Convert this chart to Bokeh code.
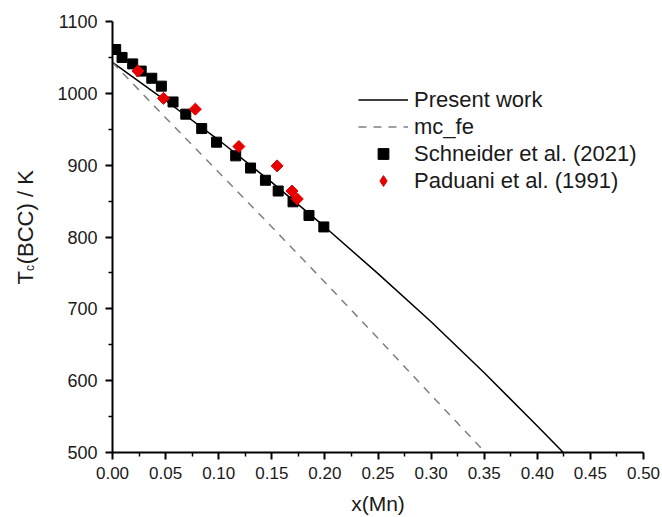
import numpy as np
from bokeh.plotting import figure
from bokeh.models import Legend, LegendItem, Label, Range1d, FixedTicker
from bokeh.embed import file_html
from bokeh.resources import INLINE

# Calculated Curie temperature of BCC Fe-Mn
present_x = [0.0, 0.05, 0.10, 0.15, 0.20, 0.25, 0.30, 0.35, 0.40, 0.4245]
present_t = [1043, 990, 935, 876, 814, 749, 682, 611, 537, 500]

mcfe_x = [0.0, 0.05, 0.10, 0.15, 0.20, 0.25, 0.30, 0.351]
mcfe_t = [1043, 966, 890, 814, 737, 659, 580, 500]

# Experimental data
schneider_x = [0.003, 0.009, 0.019, 0.027, 0.037, 0.046, 0.057, 0.069, 0.084,
               0.098, 0.116, 0.130, 0.144, 0.156, 0.170, 0.185, 0.199]
schneider_t = [1061, 1050, 1041, 1031, 1021, 1010, 988, 971, 951,
               932, 913, 896, 879, 864, 849, 830, 814]

paduani_x = [0.024, 0.048, 0.078, 0.119, 0.155, 0.169, 0.174]
paduani_t = [1031, 993, 978, 926, 899, 864, 853]

x_ticks = [0.0, 0.05, 0.10, 0.15, 0.20, 0.25, 0.30, 0.35, 0.40, 0.45, 0.50]
x_tick_labels = ["0.00", "0.05", "0.10", "0.15", "0.20", "0.25", "0.30",
                 "0.35", "0.40", "0.45", "0.50"]
y_ticks = [500, 600, 700, 800, 900, 1000, 1100]

FONT = "Liberation Sans"
TEXT = "#1a1a1a"
RED = "#e60000"

X_RANGE = (0.0, 0.5)
Y_RANGE = (500, 1100)
BORDER = dict(left=112, right=19, top=21, bottom=65)
W, H = 662, 517

p = figure(width=W, height=H, output_backend="svg", toolbar_location=None,
           x_range=Range1d(*X_RANGE), y_range=Range1d(*Y_RANGE),
           min_border_left=BORDER["left"], min_border_right=BORDER["right"],
           min_border_top=BORDER["top"], min_border_bottom=BORDER["bottom"])
p.outline_line_color = None
p.xgrid.visible = False
p.ygrid.visible = False
p.background_fill_color = "white"
p.border_fill_color = "white"

x_minor = [(a + b) / 2 for a, b in zip(x_ticks[:-1], x_ticks[1:])]
y_minor = [(a + b) / 2 for a, b in zip(y_ticks[:-1], y_ticks[1:])]
p.xaxis.ticker = FixedTicker(ticks=x_ticks, minor_ticks=x_minor)
p.yaxis.ticker = FixedTicker(ticks=y_ticks, minor_ticks=y_minor)
p.xaxis.major_label_overrides = {t: s for t, s in zip(x_ticks, x_tick_labels)}

for ax in (p.xaxis[0], p.yaxis[0]):
    ax.axis_line_width = 2
    ax.axis_line_color = "black"
    ax.major_tick_line_width = 2
    ax.major_tick_line_color = "black"
    ax.major_tick_out = 7
    ax.major_tick_in = 0
    ax.minor_tick_line_width = 1.5
    ax.minor_tick_line_color = "black"
    ax.minor_tick_out = 4
    ax.minor_tick_in = 0
    ax.major_label_text_font = FONT
    ax.major_label_text_color = TEXT
p.xaxis.major_label_text_font_size = "17px"
p.yaxis.major_label_text_font_size = "18px"
p.xaxis.major_label_standoff = 7
p.yaxis.major_label_standoff = 8

p.xaxis.axis_label = "x(Mn)"
p.xaxis.axis_label_text_font = FONT
p.xaxis.axis_label_text_font_size = "21px"
p.xaxis.axis_label_text_font_style = "normal"
p.xaxis.axis_label_text_color = TEXT
p.xaxis.axis_label_standoff = 10

r_present = p.line(present_x, present_t, line_color="black", line_width=1.5)
r_mcfe = p.line(mcfe_x, mcfe_t, line_color="#7f7f7f", line_width=1.5,
                line_dash="8 7")
r_sch = p.scatter(schneider_x, schneider_t, marker="square", size=10,
                  fill_color="black", line_color="black")
# diamond key for the legend, hidden under the plotted diamonds
r_pad_key = p.scatter(paduani_x, paduani_t, marker="diamond", size=8,
                      fill_color=RED, line_color=RED)
p.scatter(paduani_x, paduani_t, marker="square", angle=np.pi / 4,
          size=8.5, fill_color=RED, line_color=RED)


# Y axis title "T_c(BCC) / K", built from rotated text pieces placed in the
# side panels (so they are not clipped to the frame); positions go through the
# plot's data scales from canvas pixel positions.
frame_w = W - BORDER["left"] - BORDER["right"]
frame_h = H - BORDER["top"] - BORDER["bottom"]

def to_x(px):
    return X_RANGE[0] + (px - BORDER["left"]) * (X_RANGE[1] - X_RANGE[0]) / frame_w

def to_y(py):
    return Y_RANGE[1] - (py - BORDER["top"]) * (Y_RANGE[1] - Y_RANGE[0]) / frame_h

title_parts = [
    ("T", 25, 284.0, "22px", "left"),
    ("(BCC) / K", 25, 263.8, "22px", "left"),
    ("c", 29.5, 270.4, "12px", "above"),
]
for txt, px, py, fs, side in title_parts:
    p.add_layout(Label(x=to_x(px), y=to_y(py), text=txt, angle=np.pi / 2,
                       text_align="left", text_baseline="alphabetic",
                       text_font=FONT, text_font_size=fs, text_color=TEXT), side)

legend = Legend(items=[
    LegendItem(label="Present work", renderers=[r_present]),
    LegendItem(label="mc_fe", renderers=[r_mcfe]),
    LegendItem(label="Schneider et al. (2021)", renderers=[r_sch]),
    LegendItem(label="Paduani et al. (1991)", renderers=[r_pad_key]),
], location=(236, 248))
legend.glyph_width = 50
legend.glyph_height = 27
legend.label_height = 20
legend.spacing = 0
legend.padding = 10
legend.label_standoff = 6
legend.label_text_font = FONT
legend.label_text_font_size = "22px"
legend.label_text_color = TEXT
legend.border_line_alpha = 0
legend.background_fill_alpha = 0
p.add_layout(legend)

open("out.html", "w").write(file_html(p, INLINE))
